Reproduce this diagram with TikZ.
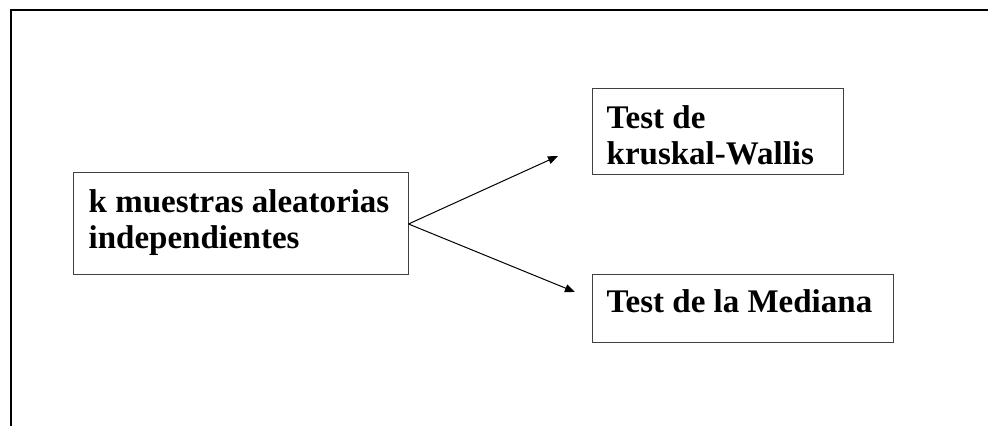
\documentclass[tikz,border=0pt]{standalone}
\usepackage{fontspec}
\setmainfont{Liberation Serif}
\usetikzlibrary{arrows.meta,positioning}
\begin{document}
\begin{tikzpicture}[x=1pt,y=1pt,>={Triangle[length=10pt,width=8pt]},
  box/.style={draw=black!75,line width=1pt,inner sep=0pt},
  boxtext/.style={anchor=north west,inner sep=0pt,align=left,font=\fontsize{33}{36}\selectfont\bfseries},
  link/.style={->,line width=1pt}]
\useasboundingbox (0,0) rectangle (988,426);
% frame
\draw[line width=2pt] (11,0) -- (11,416) -- (988,416);
% boxes
\node[box,minimum width=335pt,minimum height=102pt] (muestras) at (240.5,202) {};
\node[box,minimum width=251pt,minimum height=86pt] (kruskal) at (717.5,294) {};
\node[box,minimum width=301pt,minimum height=67pt] (mediana) at (742.5,117.5) {};
\node[boxtext] (tmuestras) at ([shift={(16pt,-17pt)}]muestras.north west) {k muestras aleatorias\\independientes};
\node[boxtext] (tkruskal) at ([shift={(15pt,-17pt)}]kruskal.north west) {Test de\\kruskal-Wallis};
\node[boxtext] (tmediana) at ([shift={(15pt,-15pt)}]mediana.north west) {Test de la Mediana};
% arrows
\coordinate (endk) at (558,270);
\coordinate (endm) at (575,134);
\draw[link] (muestras.east) -- (endk);
\draw[link] (muestras.east) -- (endm);
\end{tikzpicture}
\end{document}
